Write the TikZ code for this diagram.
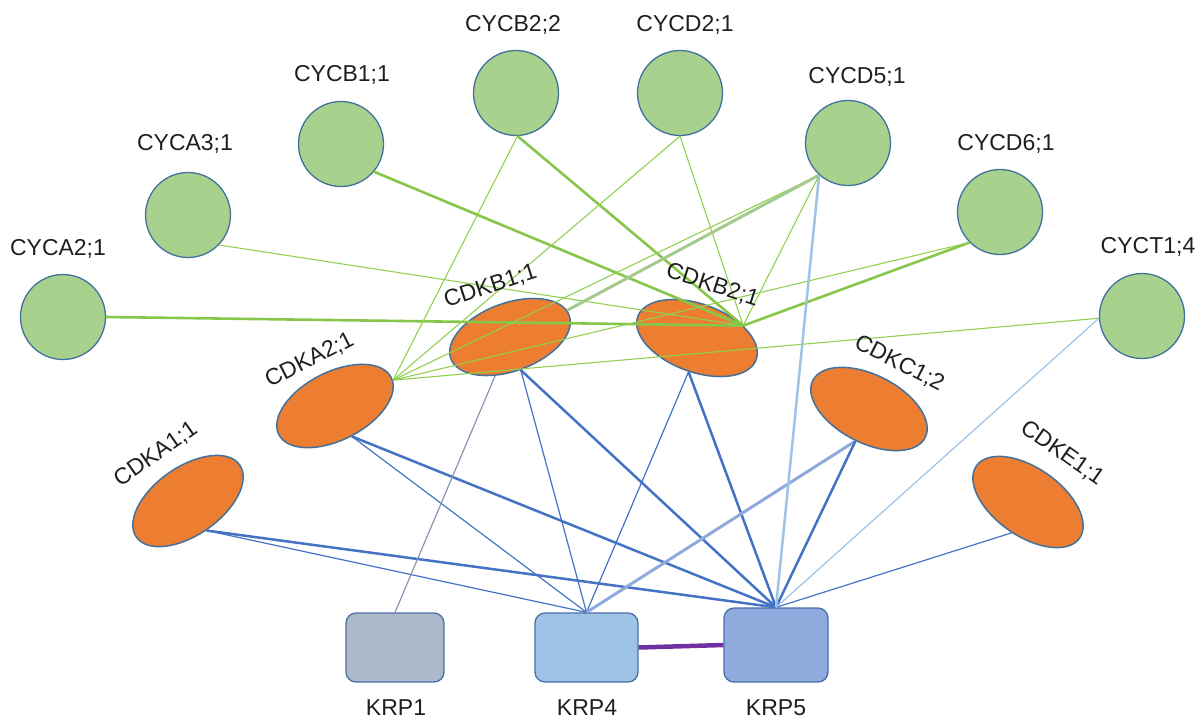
\documentclass[tikz,border=0pt]{standalone}
\usepackage{fontspec}
\setmainfont{Liberation Sans}
\usetikzlibrary{shapes.geometric}
\definecolor{cycfill}{HTML}{A9D18E}
\definecolor{cdkfill}{HTML}{ED7D31}
\definecolor{nodeborder}{HTML}{41719C}
\definecolor{krpborder}{HTML}{4A6FA8}
\definecolor{krponefill}{HTML}{ADB9CA}
\definecolor{krpfourfill}{HTML}{9DC3E6}
\definecolor{krpfivefill}{HTML}{8FAADC}
\definecolor{gthinc}{HTML}{92D050}
\definecolor{gthickc}{HTML}{86C64A}
\definecolor{gpalec}{HTML}{A6C98E}
\definecolor{bluec}{HTML}{4472C4}
\definecolor{bpalec}{HTML}{8FAADC}
\definecolor{lbluec}{HTML}{9DC3E6}
\definecolor{grayc}{HTML}{8497B0}
\definecolor{purplec}{HTML}{7030A0}
\begin{document}
\begin{tikzpicture}[x=1pt,y=-1pt,
  cyc/.style={circle, draw=nodeborder, line width=1.3pt, fill=cycfill, minimum size=85pt, inner sep=0pt},
  cdk/.style={ellipse, draw=nodeborder, line width=1.5pt, fill=cdkfill, minimum width=126pt, minimum height=68pt, inner sep=0pt},
  krp/.style={rectangle, rounded corners=10pt, draw=krpborder, line width=1.3pt, minimum width=103pt, minimum height=69pt, inner sep=0pt},
  lbl/.style={font=\fontsize{23}{27}\selectfont, text=black!88, inner sep=0pt, text depth=0pt},
  gthin/.style={draw=gthinc, line width=1.1pt},
  gthick/.style={draw=gthickc, line width=2.6pt},
  gpale/.style={draw=gpalec, line width=3pt},
  bthin/.style={draw=bluec, line width=1.2pt},
  bthick/.style={draw=bluec, line width=2.5pt},
  bpale/.style={draw=bpalec, line width=3pt},
  lbthick/.style={draw=lbluec, line width=2.5pt},
  lbthin/.style={draw=lbluec, line width=1.2pt},
  grayline/.style={draw=grayc, line width=1.2pt},
  purpleline/.style={draw=purplec, line width=4.5pt}
]
\useasboundingbox (0,0) rectangle (1202,721);

% cyclins
\node[cyc] (cyca2) at (63,317) {};
\node[cyc] (cyca3) at (188,215) {};
\node[cyc] (cycb1) at (341,144) {};
\node[cyc] (cycb2) at (516,93) {};
\node[cyc] (cycd2) at (680,93) {};
\node[cyc] (cycd5) at (848,143) {};
\node[cyc] (cycd6) at (1000,212) {};
\node[cyc] (cyct1) at (1142,316) {};

% CDKs
\node[cdk, rotate=35] (cdka1) at (188,501) {};
\node[cdk, rotate=27] (cdka2) at (335,406) {};
\node[cdk, rotate=20] (cdkb1) at (510,337) {};
\node[cdk, rotate=-20] (cdkb2) at (697,338) {};
\node[cdk, rotate=-27] (cdkc1) at (869,409) {};
\node[cdk, rotate=-35] (cdke1) at (1028,502) {};

% KRPs
\node[krp, fill=krponefill, minimum width=98pt] (krp1) at (395,647.5) {};
\node[krp, fill=krpfourfill] (krp4) at (586.5,647.5) {};
\node[krp, fill=krpfivefill, minimum width=104pt, minimum height=74pt] (krp5) at (776,645) {};

% green edges
\draw[gthick] (cdkb2.35) -- (cyca2.0);
\draw[gthin]  (cdkb2.35) -- (cyca3.-44);
\draw[gthick] (cdkb2.35) -- (cycb1.-40);
\draw[gthick] (cdkb2.35) -- (cycb2.-88);
\draw[gthin]  (cdkb2.35) -- (cycd2.-90);
\draw[gthin]  (cdkb2.35) -- (cycd5.-132);
\draw[gthick] (cdkb2.35) -- (cycd6.-135);
\draw[gthin] (cdka2.-3) -- (cycb2.-88);
\draw[gthin] (cdka2.-3) -- (cycd2.-90);
\draw[gthin] (cdka2.-3) -- (cycd5.-132);
\draw[gthin] (cdka2.-3) -- (cycd6.-135);
\draw[gthin] (cdka2.-3) -- (cyct1.-177);
\draw[gpale] (cdkb1.5) -- (cycd5.-132);

% blue edges
\draw[bthick] (cdka1.-93) -- (krp5.north);
\draw[bthin]  (cdka1.-93) -- (krp4.north);
\draw[bthick] (cdka2.-88) -- (krp5.north);
\draw[bthin]  (cdka2.-88) -- (krp4.north);
\draw[grayline] (cdkb1.-131) -- (krp1.north);
\draw[bthin]  (cdkb1.-92) -- (krp4.north);
\draw[bthick] (cdkb1.-92) -- (krp5.north);
\draw[bthin]  (cdkb2.-84) -- (krp4.north);
\draw[bthick] (cdkb2.-84) -- (krp5.north);
\draw[bpale]  (cdkc1.-86) -- (krp4.north);
\draw[bthick] (cdkc1.-86) -- (krp5.north);
\draw[bthin]  (cdke1.-83) -- (krp5.north);
\draw[lbthick] (cycd5.-132) -- (krp5.north);
\draw[lbthin]  (cyct1.-177) -- (krp5.north);
\draw[purpleline] (krp4.east) -- (krp5.west);

% labels
\node[lbl] (tcyca2) at (58,247) {CYCA2;1};
\node[lbl] (tcyca3) at (185,142) {CYCA3;1};
\node[lbl] (tcycb1) at (342,73) {CYCB1;1};
\node[lbl] (tcycb2) at (513,23) {CYCB2;2};
\node[lbl] (tcycd2) at (685,23) {CYCD2;1};
\node[lbl] (tcycd5) at (857,75) {CYCD5;1};
\node[lbl] (tcycd6) at (1006,142) {CYCD6;1};
\node[lbl] (tcyct1) at (1148,245) {CYCT1;4};
\node[lbl, rotate=35] (tcdka1) at (155,453) {CDKA1;1};
\node[lbl, rotate=27] (tcdka2) at (309,359) {CDKA2;1};
\node[lbl, rotate=18] (tcdkb1) at (490,285) {CDKB1;1};
\node[lbl, rotate=-18] (tcdkb2) at (713,284) {CDKB2;1};
\node[lbl, rotate=-27] (tcdkc1) at (900,362) {CDKC1;2};
\node[lbl, rotate=-35] (tcdke1) at (1063,452) {CDKE1;1};
\node[lbl] (tkrp1) at (396,708) {KRP1};
\node[lbl] (tkrp4) at (587,708) {KRP4};
\node[lbl] (tkrp5) at (776,708) {KRP5};
\end{tikzpicture}
\end{document}
